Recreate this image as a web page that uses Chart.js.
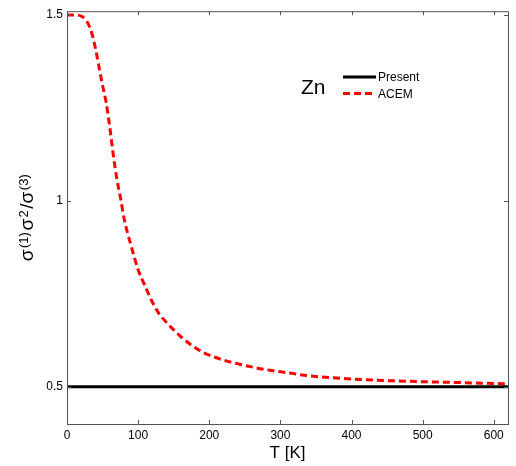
<!DOCTYPE html>
<html>
<head>
<meta charset="utf-8">
<script src="https://cdn.jsdelivr.net/npm/chart.js@4"></script>
<style>
  html, body { margin: 0; padding: 0; background: #fff; }
  #wrap { width: 516px; height: 466px; }
</style>
</head>
<body>
<div id="wrap"><canvas id="zn_ratio"></canvas></div>
<script>
// temperatures (K) and sigma ratio
let temps = [0, 10, 20, 25, 30, 35, 40, 45, 50, 55, 60, 65, 70, 76, 80, 90, 100, 110, 120, 130, 140, 150, 160, 175, 190, 200, 220, 240, 266, 290, 313, 330, 355, 400, 420, 460, 515, 560, 620];
let acem = [1.5, 1.5, 1.497, 1.49, 1.475, 1.45, 1.41, 1.36, 1.31, 1.265, 1.2, 1.125, 1.06, 1.0, 0.955, 0.88, 0.815, 0.77, 0.728, 0.695, 0.673, 0.653, 0.635, 0.612, 0.594, 0.585, 0.572, 0.562, 0.551, 0.543, 0.537, 0.532, 0.527, 0.521, 0.519, 0.516, 0.513, 0.511, 0.508];
let presentT = [0, 620];
let present = [0.5, 0.5];
let xTicks = [0, 100, 200, 300, 400, 500, 600];
let yTicks = [0.5, 1, 1.5];
let element = 'Zn';
// y title pieces: [text, superscript?]
let yTitle = [['σ', false], ['(1)', true], ['σ', false], ['2', true], ['/σ', false], ['(3)', true]];

const FONT = '"Liberation Sans", Arial, sans-serif';

// box + inward ticks on all four sides, y title, and the in-plot legend
const framePlugin = {
  id: 'frame',
  afterDraw(chart) {
    const ctx = chart.ctx;
    const a = chart.chartArea;
    const xs = chart.scales.x, ys = chart.scales.y;
    ctx.save();
    ctx.strokeStyle = '#555';
    ctx.lineWidth = 1;
    ctx.strokeRect(a.left + 0.5, a.top + 0.5, a.right - a.left, a.bottom - a.top);
    ctx.beginPath();
    xTicks.forEach(v => {
      let px = Math.round(xs.getPixelForValue(v)) + 0.5;
      ctx.moveTo(px, a.bottom); ctx.lineTo(px, a.bottom - 4);
      ctx.moveTo(px, a.top); ctx.lineTo(px, a.top + 4);
    });
    yTicks.forEach(v => {
      let py = Math.round(ys.getPixelForValue(v)) + 0.5;
      ctx.moveTo(a.left, py); ctx.lineTo(a.left + 4, py);
      ctx.moveTo(a.right, py); ctx.lineTo(a.right - 4, py);
    });
    ctx.stroke();

    // y axis title with real superscripts
    ctx.fillStyle = '#000';
    ctx.textBaseline = 'alphabetic';
    const gap = 1.5;
    let total = 0;
    yTitle.forEach(p => {
      ctx.font = (p[1] ? '13px ' : '19px ') + FONT;
      total += ctx.measureText(p[0]).width + gap;
    });
    ctx.translate(33, 217 + total / 2);
    ctx.rotate(-Math.PI / 2);
    let cx = 0;
    yTitle.forEach(p => {
      ctx.font = (p[1] ? '13px ' : '19px ') + FONT;
      ctx.fillText(p[0], cx, p[1] ? -5 : 0);
      cx += ctx.measureText(p[0]).width + gap;
    });
    ctx.setTransform(1, 0, 0, 1, 0, 0);

    // legend
    ctx.textBaseline = 'middle';
    ctx.font = '21px ' + FONT;
    ctx.fillText(element, 301, 88);
    ctx.font = '12px ' + FONT;
    chart.data.datasets.forEach((ds, i) => {
      let y = 77 + i * 16.5;
      ctx.beginPath();
      ctx.strokeStyle = ds.borderColor;
      ctx.lineWidth = ds.borderWidth;
      ctx.setLineDash(ds.borderDash || []);
      ctx.moveTo(343, y); ctx.lineTo(376, y);
      ctx.stroke();
      ctx.setLineDash([]);
      ctx.fillText(ds.label, 378, y + 1);
    });
    ctx.restore();
  }
};

window.addEventListener('load', () => {
  let context = document.getElementById('zn_ratio').getContext('2d');
  new Chart(context, {
    type: 'line',
    data: {
      datasets: [{
          label: 'Present',
          data: presentT.map((t, i) => ({x: t, y: present[i]})),
          borderColor: '#000',
          borderWidth: 3,
          pointRadius: 0,
        },
        {
          label: 'ACEM',
          data: temps.map((t, i) => ({x: t, y: acem[i]})),
          borderColor: '#ff0000',
          borderWidth: 3,
          borderDash: [7, 4],
          pointRadius: 0,
          cubicInterpolationMode: 'monotone',
        },
      ],
    },
    options: {
      responsive: true,
      maintainAspectRatio: false,
      animation: false,
      layout: { padding: { left: 0, right: 8, top: 9, bottom: 0 } },
      plugins: {
        legend: { display: false },
        tooltip: { enabled: false },
      },
      scales: {
        x: {
          type: 'linear',
          min: 0,
          max: 620,
          afterBuildTicks: s => { s.ticks = xTicks.map(v => ({value: v})); },
          afterFit: s => { s.height = 42; },
          grid: { display: false, drawTicks: false },
          border: { display: false },
          ticks: { color: '#000', font: { family: FONT, size: 12 }, padding: 4, maxRotation: 0, callback: v => String(v) },
          title: { display: true, text: 'T [K]', color: '#000', font: { family: FONT, size: 17 }, padding: { top: 0, bottom: 2 } },
        },
        y: {
          min: 0.4,
          max: 1.51,
          afterBuildTicks: s => { s.ticks = yTicks.map(v => ({value: v})); },
          afterFit: s => { s.width = 67; },
          grid: { display: false, drawTicks: false },
          border: { display: false },
          ticks: { color: '#000', font: { family: FONT, size: 12 }, padding: 4, callback: v => String(v) },
        },
      },
    },
    plugins: [framePlugin],
  });
});
</script>
</body>
</html>
